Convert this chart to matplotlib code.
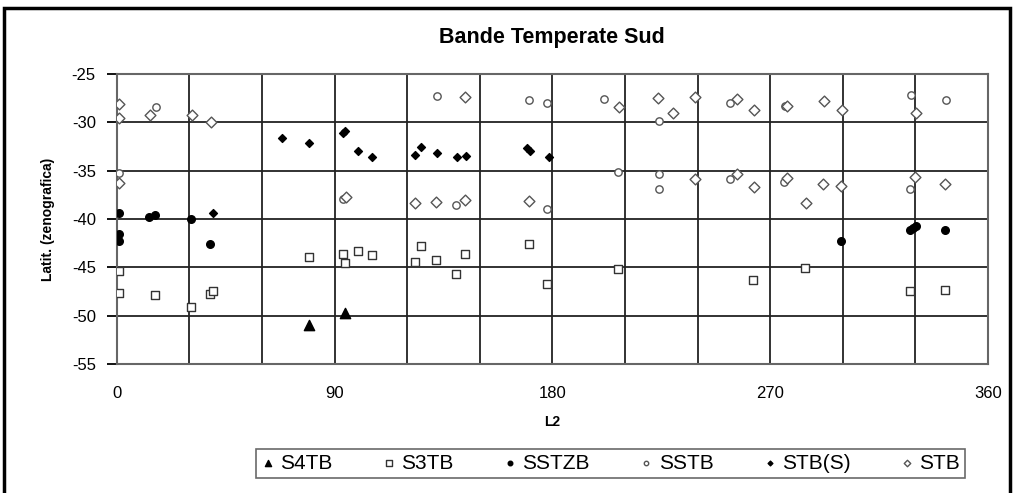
"""
Bande Temperate Sud: latitudini zenografiche vs L2.
"""

import matplotlib.pyplot as plt
from matplotlib.patches import Rectangle

plt.rcParams["font.family"] = ["Liberation Sans", "DejaVu Sans"]
plt.rcParams["axes.unicode_minus"] = False

# S4TB
s4tb_l2 = [79.3, 94.4]
s4tb_lat = [-51.0, -49.75]

# S3TB
s3tb_l2 = [1.0, 1.0, 15.8, 30.9, 38.4, 39.8, 79.3, 93.3, 94.4, 99.5, 105.4,
           123.3, 125.6, 132.0, 140.3, 144.1, 170.2, 177.8, 207.3, 262.9,
           284.4, 327.7, 342.2]
s3tb_lat = [-45.4, -47.7, -47.9, -49.1, -47.8, -47.5, -43.9, -43.65, -44.6,
            -43.3, -43.7, -44.4, -42.75, -44.2, -45.7, -43.65, -42.6, -46.7,
            -45.2, -46.3, -45.1, -47.5, -47.3]

# SSTZB
sstzb_l2 = [1.0, 1.0, 1.0, 13.4, 15.8, 30.9, 38.7, 299.3, 327.8, 329.0, 330.2,
            342.2]
sstzb_lat = [-39.4, -41.6, -42.3, -39.75, -39.6, -40.0, -42.6, -42.3, -41.1,
             -40.9, -40.7, -41.1]

# SSTB
sstb_l2 = [16.2, 132.2, 170.2, 177.8, 201.5, 224.2, 253.3, 276.2, 328.1, 342.5,
           1.0, 93.3, 140.0, 177.8, 207.3, 224.0, 224.0, 253.3, 275.7, 327.8]
sstb_lat = [-28.4, -27.3, -27.7, -28.0, -27.6, -29.9, -28.0, -28.35, -27.2,
            -27.7, -35.2, -37.9, -38.6, -39.0, -35.1, -35.3, -36.9, -35.9,
            -36.2, -36.9]

# STB(S)
stbs_l2 = [39.8, 68.4, 79.3, 93.6, 94.4, 99.5, 105.4, 123.3, 125.9, 132.2,
           140.7, 144.4, 169.5, 170.9, 178.5]
stbs_lat = [-39.4, -31.6, -32.1, -31.1, -30.9, -33.0, -33.6, -33.4, -32.6,
            -33.2, -33.6, -33.5, -32.7, -33.0, -33.6]

# STB
stb_l2 = [1.0, 1.0, 13.7, 31.1, 38.8, 144.1, 207.6, 223.8, 229.7, 238.9, 256.4,
          263.2, 276.8, 292.4, 299.7, 330.2,
          1.0, 94.6, 123.3, 132.0, 144.1, 170.2, 238.9, 256.4, 263.2, 277.0,
          284.8, 292.0, 299.3, 329.9, 342.2]
stb_lat = [-28.1, -29.6, -29.2, -29.2, -30.0, -27.4, -28.4, -27.5, -29.0, -27.4,
           -27.6, -28.7, -28.3, -27.8, -28.7, -29.0,
           -36.3, -37.7, -38.3, -38.2, -38.0, -38.1, -35.9, -35.4, -36.65,
           -35.8, -38.4, -36.4, -36.55, -35.7, -36.4]

fig = plt.figure(figsize=(10.18, 4.93), dpi=100)
ax = fig.add_axes([0.1146, 0.2617, 0.856, 0.5883])

ax.scatter(s4tb_l2, s4tb_lat, marker="^", s=55, c="black", label="S4TB", zorder=3)
ax.scatter(s3tb_l2, s3tb_lat, marker="s", s=38, facecolors="white",
           edgecolors="#333333", linewidths=1.0, label="S3TB", zorder=3)
ax.scatter(sstzb_l2, sstzb_lat, marker="o", s=30, c="black", label="SSTZB", zorder=3)
ax.scatter(sstb_l2, sstb_lat, marker="o", s=28, facecolors="white",
           edgecolors="#555555", linewidths=1.0, label="SSTB", zorder=3)
ax.scatter(stbs_l2, stbs_lat, marker="D", s=16, c="black", label="STB(S)", zorder=3)
ax.scatter(stb_l2, stb_lat, marker="D", s=30, facecolors="white",
           edgecolors="#555555", linewidths=1.0, label="STB", zorder=3)

ax.set_xlim(0, 360)
ax.set_ylim(-55, -25)
ax.set_xticks(range(0, 361, 90))
ax.set_xticks(range(0, 361, 30), minor=True)
ax.set_yticks(range(-55, -24, 5))
ax.grid(True, which="both", color="#222222", linewidth=1.3)
ax.set_axisbelow(True)
ax.tick_params(axis="y", direction="out", length=7, width=1.3, labelsize=12, pad=8)
ax.tick_params(axis="x", which="both", length=0, labelsize=12, pad=16)
for s in ax.spines.values():
    s.set_color("#666666")
    s.set_linewidth(1.5)

ax.set_title("Bande Temperate Sud", fontsize=15.5, fontweight="bold", pad=22)
ax.set_xlabel("L2", fontsize=10, fontweight="bold", labelpad=10)
ax.set_ylabel("Latit. (zenografica)", fontsize=10, fontweight="bold", labelpad=12)

leg = fig.legend(loc="center", bbox_to_anchor=(0.6, 0.06), ncol=6, fontsize=15,
                 frameon=True, fancybox=False, edgecolor="#444444",
                 handletextpad=0.3, columnspacing=2.4, borderpad=0.25,
                 markerscale=0.6, handlelength=0.6)
leg.get_frame().set_linewidth(1.2)

# outer border of the chart
fig.patches.append(Rectangle((0.004, -0.05), 0.988, 1.034, transform=fig.transFigure,
                             fill=False, edgecolor="black", linewidth=2.5))

fig.savefig("out.png", dpi=100)
